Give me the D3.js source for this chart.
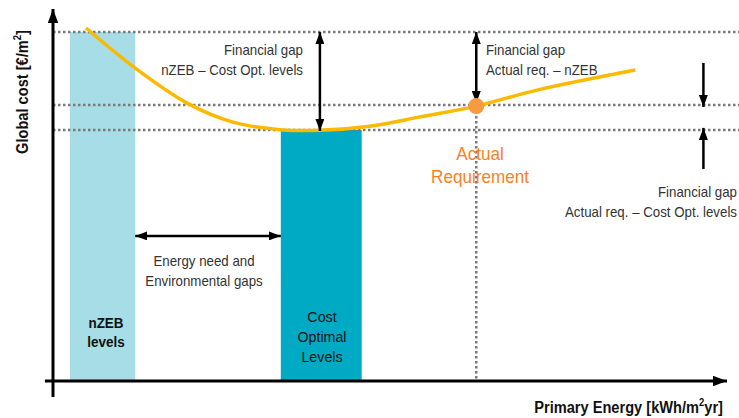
<!DOCTYPE html>
<html>
<head>
<meta charset="utf-8">
<script src="https://cdn.jsdelivr.net/npm/d3@7"></script>
<style>
  body { margin: 0; background: #ffffff; }
  svg { display: block; font-family: "Liberation Sans", Arial, sans-serif; }
</style>
</head>
<body>
<div id="main_output"></div>
<script>
// conceptual units: primary energy 0-100, global cost 0-100
const costCurve = [
  [4.9, 94.9], [12.2, 84.1], [19.9, 74.7], [26.7, 69.6], [34.1, 67.5],
  [39.6, 67.4], [47.0, 68.5], [54.5, 71.0], [62.8, 73.9], [71.8, 78.2], [86.4, 83.6]
];
const costLevels = { nzeb: 93.8, actual: 74.2, costOpt: 67.5 };
const bands = [
  { name: "nZEB", from: 2.5, to: 12.2, top: 93.8, label: ["nZEB", "levels"], colour: "#a6dde6" },
  { name: "costOpt", from: 33.8, to: 45.8, top: 67.5, label: ["Cost", "Optimal", "Levels"], colour: "#00aac4" }
];
const actualReq = [62.8, 73.9];
const gapNote1 = ["Financial gap", "nZEB \u2013 Cost Opt. levels"];
const gapNote2 = ["Financial gap", "Actual req. \u2013 nZEB"];
const gapNote3 = ["Financial gap", "Actual req. \u2013 Cost Opt. levels"];
const energyNote = ["Energy need and", "Environmental gaps"];

const W = 739, H = 418;
const x = d3.scaleLinear().domain([0, 100]).range([53, 727]);
const y = d3.scaleLinear().domain([0, 100]).range([381, 9]);

const svg = d3.select("#main_output").append("svg")
  .attr("width", W).attr("height", H);

const defs = svg.append("defs");
defs.append("marker")
  .attr("id", "head")
  .attr("viewBox", "0 0 12 9")
  .attr("refX", 12).attr("refY", 4.5)
  .attr("markerWidth", 4.8).attr("markerHeight", 3.6)
  .attr("markerUnits", "strokeWidth")
  .attr("orient", "auto-start-reverse")
  .append("path").attr("d", "M0,0 L12,4.5 L0,9 z").attr("fill", "#000");

// bands
svg.selectAll("rect.band")
  .data(bands)
  .enter().append("rect")
  .attr("class", "band")
  .attr("x", d => x(d.from))
  .attr("width", d => x(d.to) - x(d.from))
  .attr("y", d => y(d.top))
  .attr("height", d => y(0) - y(d.top))
  .attr("fill", d => d.colour);

// dotted levels
svg.selectAll("line.level")
  .data(Object.values(costLevels))
  .enter().append("line")
  .attr("class", "level")
  .attr("x1", x(0)).attr("x2", W)
  .attr("y1", d => y(d)).attr("y2", d => y(d))
  .attr("stroke", "#7a7a7a")
  .attr("stroke-width", 2.5)
  .attr("stroke-dasharray", "2.5,2.5");

// vertical dotted from actual requirement
svg.append("line")
  .attr("x1", x(actualReq[0])).attr("x2", x(actualReq[0]))
  .attr("y1", y(actualReq[1])).attr("y2", y(0))
  .attr("stroke", "#7a7a7a")
  .attr("stroke-width", 2.5)
  .attr("stroke-dasharray", "2.5,2.5");

// axes
svg.append("line")
  .attr("x1", x(0)).attr("x2", x(0))
  .attr("y1", y(-4.3)).attr("y2", y(100))
  .attr("stroke", "#000").attr("stroke-width", 3)
  .attr("marker-end", "url(#head)");
svg.append("line")
  .attr("x1", x(-1.2)).attr("x2", x(100))
  .attr("y1", y(0)).attr("y2", y(0))
  .attr("stroke", "#000").attr("stroke-width", 3)
  .attr("marker-end", "url(#head)");

// curve
const line = d3.line()
  .x(d => x(d[0]))
  .y(d => y(d[1]))
  .curve(d3.curveCatmullRom);
svg.append("path")
  .datum(costCurve)
  .attr("fill", "none")
  .attr("stroke", "#fbb900")
  .attr("stroke-width", 3.5)
  .attr("d", line);

// gap arrows
function arrow(x1, y1, x2, y2, both) {
  const l = svg.append("line")
    .attr("x1", x1).attr("y1", y1).attr("x2", x2).attr("y2", y2)
    .attr("stroke", "#000").attr("stroke-width", 2.5)
    .attr("marker-end", "url(#head)");
  if (both) l.attr("marker-start", "url(#head)");
}
arrow(x(39.6), y(costLevels.nzeb), x(39.6), y(costLevels.costOpt) + 1, true);
arrow(x(actualReq[0]), y(costLevels.nzeb), x(actualReq[0]), y(actualReq[1]) - 3, true);
arrow(x(96.5), y(85.5), x(96.5), y(costLevels.actual) + 2, false);
arrow(x(96.5), y(57), x(96.5), y(costLevels.costOpt) - 2, false);
arrow(x(bands[0].to), y(39), x(bands[1].from), y(39), true);

// actual requirement dot
svg.append("circle")
  .attr("cx", x(actualReq[0])).attr("cy", y(actualReq[1]))
  .attr("r", 8)
  .attr("fill", "#f89a3e");

// texts (condensed look via horizontal scale)
function block(lines, tx, ty, anchor, opts) {
  const t = svg.append("text")
    .attr("transform", "translate(" + tx + "," + ty + ") scale(" + (opts.sx || 0.95) + ",1)")
    .attr("text-anchor", anchor)
    .attr("font-size", opts.size)
    .attr("font-weight", opts.weight || "normal")
    .attr("fill", opts.colour || "#333");
  lines.forEach((s, i) => {
    t.append("tspan").attr("x", 0).attr("y", i * opts.lh).text(s);
  });
}
block(gapNote1, 303, 55, "end", { size: 14, lh: 20 });
block(gapNote2, 486, 55, "start", { size: 14, lh: 20 });
block(gapNote3, 737, 197, "end", { size: 14, lh: 20 });
block(energyNote, 204, 266, "middle", { size: 14, lh: 20 });
block(["Actual", "Requirement"], 480, 160, "middle", { size: 18, lh: 23, colour: "#f5821f" });
block(bands[0].label, 106, 328, "middle", { size: 15, lh: 19, weight: "bold", colour: "#111", sx: 0.9 });
block(bands[1].label, 322, 322, "middle", { size: 15, lh: 20, colour: "#111" });

// axis titles
const yt = svg.append("text")
  .attr("transform", "translate(28,92) rotate(-90) scale(0.86,1)")
  .attr("text-anchor", "middle")
  .attr("font-size", 17).attr("font-weight", "bold").attr("fill", "#111");
yt.append("tspan").text("Global cost [\u20ac/m");
yt.append("tspan").attr("font-size", 11).attr("dy", -7).text("2");
yt.append("tspan").attr("dy", 7).text("]");

const xt = svg.append("text")
  .attr("transform", "translate(723,413) scale(0.86,1)")
  .attr("text-anchor", "end")
  .attr("font-size", 17).attr("font-weight", "bold").attr("fill", "#111");
xt.append("tspan").text("Primary Energy [kWh/m");
xt.append("tspan").attr("font-size", 11).attr("dy", -7).text("2");
xt.append("tspan").attr("dy", 7).text("yr]");
</script>
</body>
</html>
